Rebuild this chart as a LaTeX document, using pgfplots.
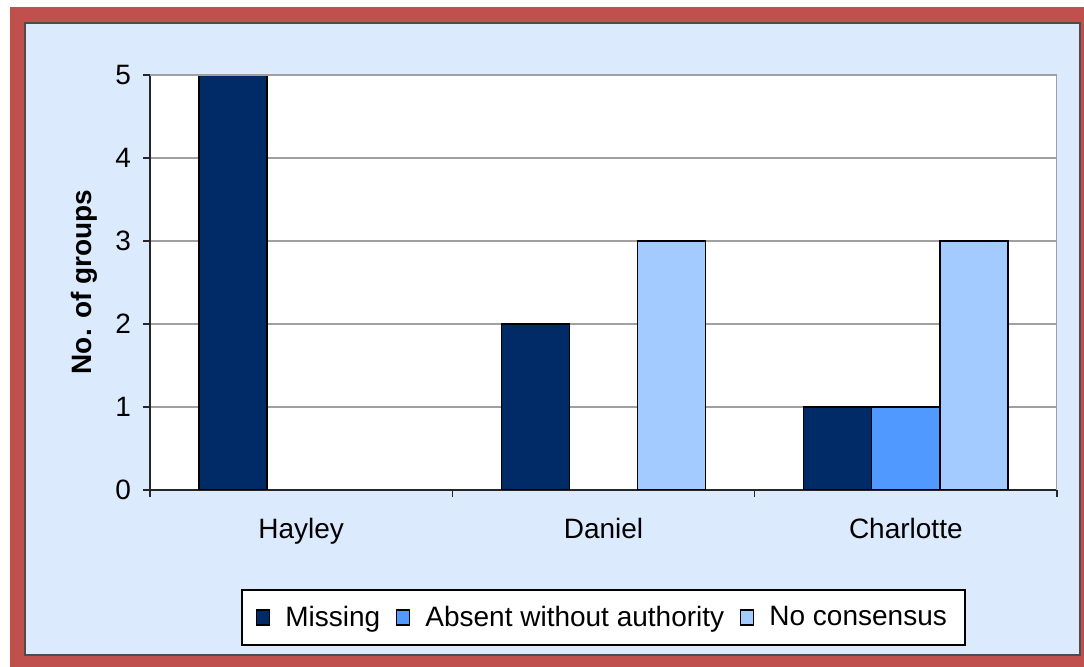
\documentclass[border=0pt]{standalone}
\usepackage{pgfplots}
\pgfplotsset{compat=1.18}
\usepackage{fontspec}
\setmainfont{Liberation Sans}
\definecolor{cMiss}{HTML}{002B66}
\definecolor{cAbs}{HTML}{4F99FF}
\definecolor{cNo}{HTML}{A3CBFF}
\definecolor{frameRed}{HTML}{C0504D}
\definecolor{bgBlue}{HTML}{DCEAFD}
\definecolor{gridGray}{HTML}{A0A0A0}
\begin{document}
\begin{tikzpicture}
\fill[white] (0,0) rectangle (542pt,333.5pt);
\fill[frameRed] (5pt,0) rectangle (542pt,330pt);
\fill[bgBlue, draw=black!70, line width=0.8pt] (12.5pt,6pt) rectangle (540pt,322pt);
\begin{axis}[
  at={(75pt,88.5pt)}, anchor=south west,
  scale only axis, width=453.5pt, height=207.5pt,
  xmin=-0.5, xmax=2.5, ymin=0, ymax=5,
  axis x line*=bottom, axis y line*=left,
  axis line style={-, black!85, line width=0.8pt},
  axis background/.style={fill=white},
  ytick={0,1,2,3,4,5},
  xtick={0,1,2}, xticklabels={Hayley,Daniel,Charlotte},
  minor xtick={-0.5,0.5,1.5,2.5},
  major x tick style={draw=none},
  minor x tick style={draw=black!85, line width=0.8pt},
  y tick style={draw=black!85, line width=0.8pt},
  major tick length=3.5pt, minor tick length=3.5pt, tick align=outside,
  ymajorgrids, grid style={gridGray, line width=0.6pt},
  tick label style={font=\fontsize{14}{16}\selectfont},
  xticklabel style={yshift=-7pt},
  yticklabel style={xshift=-2.5pt},
  /pgf/number format/assume math mode=true,
  mybar/.style={ybar, bar width=0.2252, draw=black, line width=0.7pt,
    legend image code/.code={\draw[##1, draw=black, line width=0.6pt] (0pt,-3.75pt) rectangle (6.5pt,3.75pt);}},
  legend style={at={(axis description cs:0.5,-0.3072)}, anchor=center,
    draw=black, line width=0.8pt, fill=white,
    font=\fontsize{14}{16}\selectfont, legend columns=-1,
    /tikz/every odd column/.append style={column sep=5.5pt},
    /tikz/every even column/.append style={column sep=6pt},
    inner xsep=7pt, inner ysep=6pt},
]
\addplot[mybar, bar shift=-0.2252, fill=cMiss] coordinates {(0,5) (1,2) (2,1)};
\addlegendentry{Missing}
\addplot[mybar, bar shift=0, fill=cAbs] coordinates {(2,1)};
\addlegendentry{Absent without authority}
\addplot[mybar, bar shift=0.2252, fill=cNo] coordinates {(1,3) (2,3)};
\addlegendentry{No consensus}
\draw[gridGray, line width=0.6pt] (rel axis cs:0,1) -- (rel axis cs:1,1) -- (rel axis cs:1,0);
\end{axis}
\node[rotate=90, font=\bfseries\fontsize{14}{16}\selectfont] at (42pt,192.5pt) {No. of groups};
\end{tikzpicture}
\end{document}
